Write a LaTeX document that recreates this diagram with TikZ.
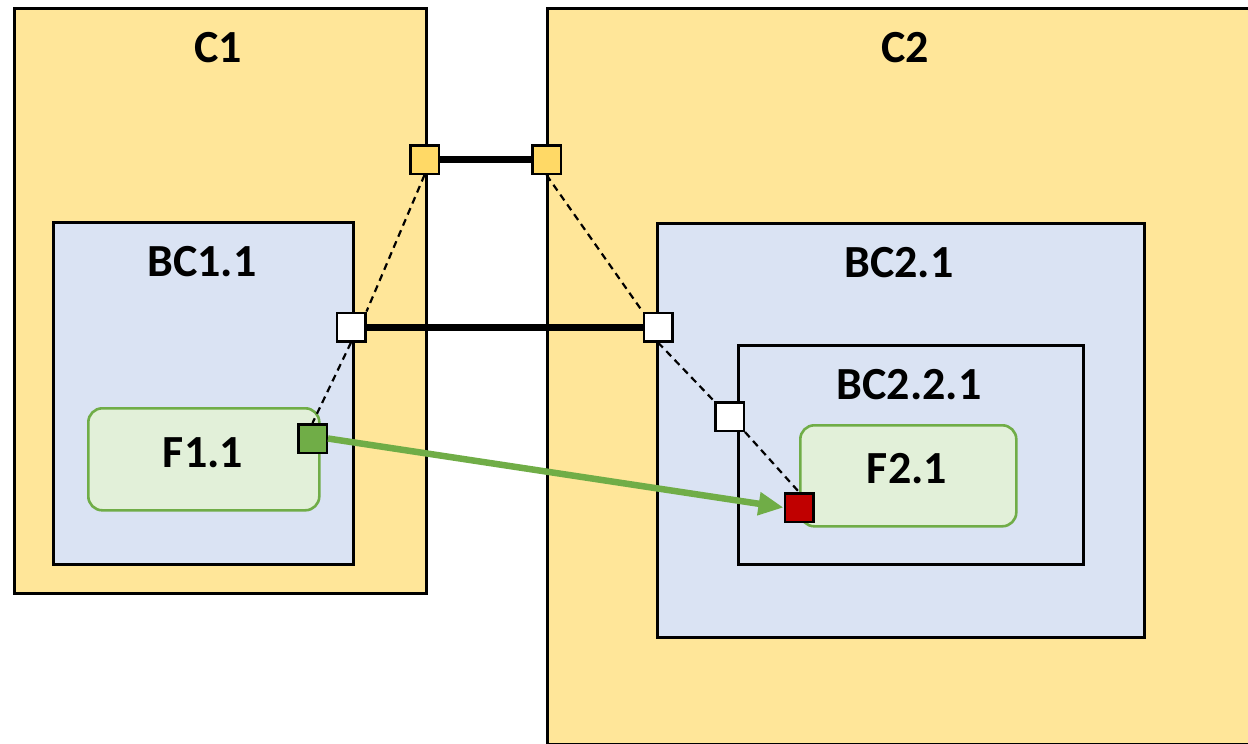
\documentclass[tikz,border=0pt]{standalone}
\usepackage{fontspec}
\setmainfont{Carlito}
\usetikzlibrary{arrows.meta}
\definecolor{cyellow}{HTML}{FFE699}
\definecolor{pyellow}{HTML}{FFD966}
\definecolor{bblue}{HTML}{DAE3F3}
\definecolor{fgreen}{HTML}{E2F0D9}
\definecolor{lgreen}{HTML}{70AD47}
\definecolor{pred}{HTML}{C00000}
\tikzset{
  box/.style={draw=black, line width=2.6pt, inner sep=0pt, anchor=north west},
  fbox/.style={draw=lgreen, fill=fgreen, line width=2.6pt, rounded corners=14pt, inner sep=0pt, anchor=north west},
  lbl/.style={font=\bfseries\fontsize{46}{50}\selectfont, inner sep=0pt},
  port/.style={draw=black, line width=2.5pt, minimum size=28.5pt, inner sep=0pt},
  link/.style={line width=7pt},
  deleg/.style={line width=2.2pt, dash pattern=on 7pt off 5pt},
  flow/.style={draw=lgreen, line width=6.5pt, -{Triangle[length=25pt,width=22pt]}}
}
\begin{document}
\begin{tikzpicture}[x=1pt, y=-1pt]
\useasboundingbox (0,0) rectangle (1248,744);
\clip (0,0) rectangle (1248,744);

% components
\node[box, fill=cyellow, minimum width=412pt, minimum height=585pt] (C1) at (13,7) {};
\node[box, fill=cyellow, minimum width=724pt, minimum height=736pt] (C2) at (546,7) {};
\node[lbl] (C1lbl) at (218,48) {C1};
\node[lbl] (C2lbl) at (905,48) {C2};

% blocks
\node[box, fill=bblue, minimum width=300pt, minimum height=342pt] (BC11) at (52,221) {};
\node[lbl] (BC11lbl) at (202,262) {BC1.1};
\node[box, fill=bblue, minimum width=487pt, minimum height=414pt] (BC21) at (656,222) {};
\node[lbl] (BC21lbl) at (899,263) {BC2.1};
\node[box, fill=bblue, minimum width=345pt, minimum height=219pt] (BC221) at (737,344) {};
\node[lbl] (BC221lbl) at (909,385) {BC2.2.1};

% functions
\node[fbox, minimum width=231pt, minimum height=102pt] (F11) at (87,407) {};
\node[lbl] (F11lbl) at (203,453) {F1.1};
\node[fbox, minimum width=216pt, minimum height=101pt] (F21) at (799,424) {};
\node[lbl] (F21lbl) at (907,469) {F2.1};

% port positions
\coordinate (pyl) at (424.5,159.5);
\coordinate (pyr) at (546.5,159.5);
\coordinate (pwl) at (351,327);
\coordinate (pwr) at (658,327);
\coordinate (pwm) at (729.5,416.5);
\coordinate (pg) at (312.5,438.5);
\coordinate (pr) at (799,507.5);

\node[port, draw=none] (yL) at (pyl) {};
\node[port, draw=none] (yR) at (pyr) {};
\node[port, draw=none] (wL) at (pwl) {};
\node[port, draw=none] (wR) at (pwr) {};
\node[port, draw=none] (wM) at (pwm) {};
\node[port, draw=none] (gP) at (pg) {};
\node[port, draw=none] (rP) at (pr) {};

% delegation links
\draw[deleg] (yL.south) -- (wL.north east);
\draw[deleg] (yR.south) -- (wR.north west);
\draw[deleg] (wL.south) -- (gP.north);
\draw[deleg] (wR.south) -- (wM.north west);
\draw[deleg] (wM.south east) -- (rP.north);

% assembly links
\draw[link] (yL.east) -- (yR.west);
\draw[link] (wL.east) -- (wR.west);

% port boxes on top
\node[port, fill=pyellow] at (yL) {};
\node[port, fill=pyellow] at (yR) {};
\node[port, fill=white] at (wL) {};
\node[port, fill=white] at (wR) {};
\node[port, fill=white] at (wM) {};
\node[port, fill=lgreen] at (gP) {};
\node[port, fill=pred] at (rP) {};

% functional exchange
\draw[flow] (gP.east) -- (rP.west);
\end{tikzpicture}
\end{document}
